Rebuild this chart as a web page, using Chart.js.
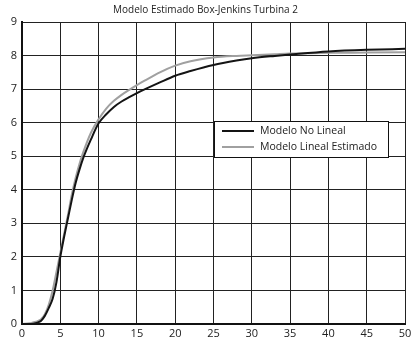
<!DOCTYPE html>
<html>
<head>
<meta charset="utf-8">
<script src="https://cdn.jsdelivr.net/npm/chart.js@4.4.1/dist/chart.umd.min.js"></script>
<style>
  html, body { margin: 0; padding: 0; background: #fff; }
  #wrap { width: 411px; height: 343px; }
</style>
</head>
<body>
<div id="wrap"><canvas id="chart" width="411" height="343"></canvas></div>
<script>
const titleText = "Modelo Estimado Box-Jenkins Turbina 2";
const seriesNames = ["Modelo No Lineal", "Modelo Lineal Estimado"];
const tiempo = [0, 1, 1.5, 2, 2.5, 3, 3.5, 4, 4.5, 5, 5.5, 6, 6.5, 7, 7.5, 8, 9, 10, 11, 12, 13, 14, 15, 16, 18, 20, 22, 25, 28, 30, 33, 35, 40, 45, 50];
const noLineal = [0, 0, 0.01, 0.04, 0.1, 0.25, 0.48, 0.75, 1.25, 2.0, 2.6, 3.15, 3.7, 4.2, 4.6, 4.95, 5.5, 5.98, 6.25, 6.47, 6.63, 6.76, 6.88, 6.99, 7.2, 7.4, 7.54, 7.72, 7.85, 7.92, 7.99, 8.03, 8.12, 8.17, 8.2];
const linealEst = [0, 0.02, 0.05, 0.08, 0.14, 0.3, 0.58, 1.0, 1.55, 2.12, 2.68, 3.25, 3.85, 4.35, 4.77, 5.12, 5.7, 6.1, 6.42, 6.65, 6.83, 6.98, 7.12, 7.25, 7.5, 7.7, 7.83, 7.94, 7.99, 8.01, 8.04, 8.06, 8.08, 8.09, 8.1];

const FONT = "'Open Sans', 'DejaVu Sans', sans-serif";
const colors = ["#141414", "#a0a0a0"];

const toXY = ys => ys.map((y, i) => ({ x: tiempo[i], y }));

// legend box drawn inside the plot area, like the original figure
const boxLegend = {
  id: "boxLegend",
  afterDraw(chart) {
    const { ctx, chartArea } = chart;
    const x0 = chartArea.left + 192, y0 = chartArea.top + 99;
    const w = 174, h = 36;
    ctx.save();
    ctx.fillStyle = "#fff";
    ctx.fillRect(x0, y0, w, h);
    ctx.strokeStyle = "#111";
    ctx.lineWidth = 1;
    ctx.strokeRect(x0 + 0.5, y0 + 0.5, w, h);
    ctx.font = "10.5px " + FONT;
    ctx.textBaseline = "middle";
    chart.data.datasets.forEach((ds, i) => {
      const yy = y0 + 10 + i * 16;
      ctx.strokeStyle = ds.borderColor;
      ctx.lineWidth = 2;
      ctx.beginPath();
      ctx.moveTo(x0 + 8, yy);
      ctx.lineTo(x0 + 40, yy);
      ctx.stroke();
      ctx.fillStyle = "#222";
      ctx.fillText(ds.label, x0 + 46, yy);
    });
    ctx.restore();
  }
};

new Chart(document.getElementById("chart").getContext("2d"), {
  type: "line",
  data: {
    datasets: [
      { label: seriesNames[0], data: toXY(noLineal), borderColor: colors[0], borderWidth: 2, pointRadius: 0, cubicInterpolationMode: "monotone" },
      { label: seriesNames[1], data: toXY(linealEst), borderColor: colors[1], borderWidth: 2, pointRadius: 0, cubicInterpolationMode: "monotone" }
    ]
  },
  options: {
    responsive: false,
    animation: false,
    layout: { padding: { left: 0, right: 0, top: 0, bottom: 0 } },
    scales: {
      x: {
        type: "linear", min: 0, max: 50,
        ticks: { stepSize: 5, color: "#222", font: { family: FONT, size: 11 }, padding: 3, maxRotation: 0 },
        grid: { color: "#222", lineWidth: 1, drawTicks: false },
        border: { color: "#111", width: 2 },
        afterFit: s => { s.height = 19; s.paddingRight = 6; }
      },
      y: {
        min: 0, max: 9,
        ticks: { stepSize: 1, color: "#222", font: { family: FONT, size: 11 }, padding: 5 },
        grid: { color: "#222", lineWidth: 1, drawTicks: false },
        border: { color: "#111", width: 2 },
        afterFit: s => { s.width = 22; }
      }
    },
    plugins: {
      legend: { display: false },
      tooltip: { enabled: false },
      title: {
        display: true, text: titleText, color: "#222",
        font: { family: FONT, size: 10, weight: "normal" },
        padding: { top: 4, bottom: 6 }
      }
    }
  },
  plugins: [boxLegend]
});
</script>
</body>
</html>
